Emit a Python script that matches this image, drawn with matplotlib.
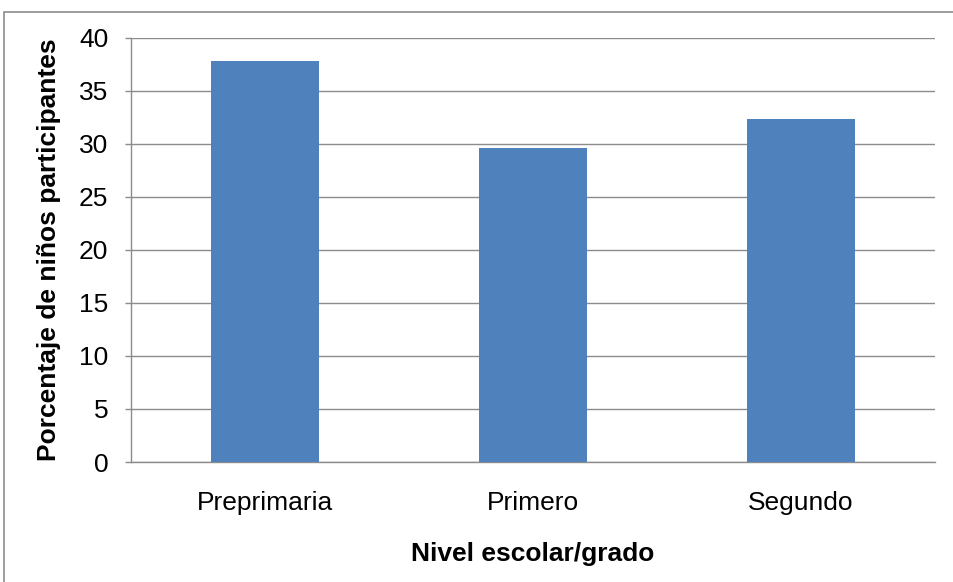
import matplotlib
matplotlib.use("Agg")
import matplotlib.pyplot as plt
from matplotlib.patches import Rectangle

# data
categories = ["Preprimaria", "Primero", "Segundo"]
porcentajes = [37.8, 29.6, 32.4]
yticks = [0, 5, 10, 15, 20, 25, 30, 35, 40]

plt.rcParams['font.family'] = ['Liberation Sans', 'DejaVu Sans']

fig = plt.figure(figsize=(9.54, 5.82), dpi=100)
W, H = 954, 582

# outer chart frame, runs off the right and bottom edge
fig.patches.append(Rectangle((4 / W, -0.1), 1.2, 1 - 12 / H + 0.1, transform=fig.transFigure,
                             facecolor='none', edgecolor='#8c8c8c', linewidth=1.2, clip_on=False))

ax = fig.add_axes([131 / W, 1 - 462 / H, (935 - 131) / W, (462 - 38) / H])

x = range(len(categories))
ax.bar(x, porcentajes, width=0.40, color='#4F81BD', zorder=3)

ax.set_xlim(-0.5, len(categories) - 0.5)
ax.set_ylim(0, 40)
ax.set_yticks(yticks)
ax.set_xticks(list(x))
ax.set_xticklabels(categories, fontsize=19)
ax.tick_params(axis='y', labelsize=19, length=4.3, width=1, color='#8c8c8c', pad=12)
ax.tick_params(axis='x', length=0, pad=21)

ax.yaxis.grid(True, color='#8c8c8c', linewidth=1)
ax.set_axisbelow(True)
for s in ['top', 'right']:
    ax.spines[s].set_visible(False)
for s in ['left', 'bottom']:
    ax.spines[s].set_color('#8c8c8c')
    ax.spines[s].set_linewidth(1)

ax.set_xlabel("Nivel escolar/grado", fontsize=19, fontweight='bold', labelpad=19)
ax.set_ylabel("Porcentaje de niños participantes", fontsize=19, fontweight='bold', labelpad=13)

fig.savefig("out.png", dpi=100)
